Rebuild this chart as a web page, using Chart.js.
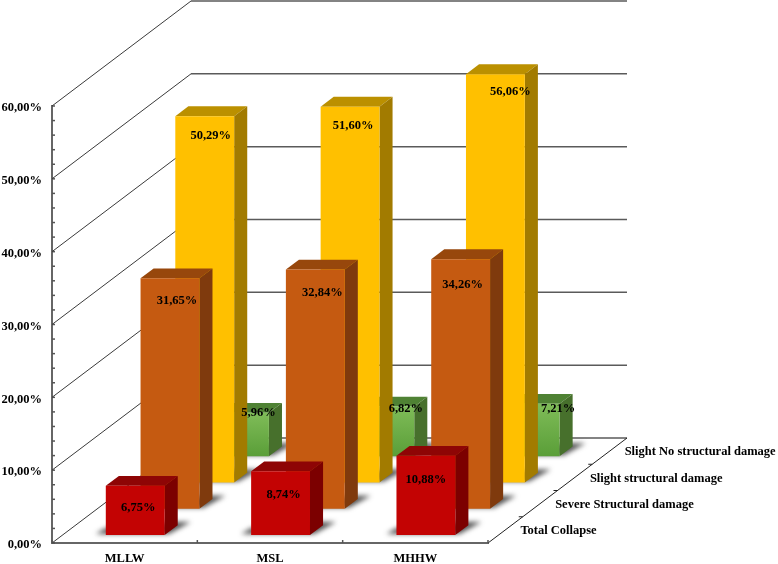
<!DOCTYPE html>
<html>
<head>
<meta charset="utf-8">
<title>Damage by tide level</title>
<script src="https://cdn.jsdelivr.net/npm/chart.js@4"></script>
<style>
html, body { margin: 0; padding: 0; background: #fff; }
#wrap { width: 778px; height: 564px; }
</style>
</head>
<body>
<div id="wrap"><canvas id="damage" width="778" height="564"></canvas></div>
<script>
var tideLevels = ['MLLW', 'MSL', 'MHHW'];
var totalCollapse = [6.75, 8.74, 10.88];
var severeDamage = [31.65, 32.84, 34.26];
var slightDamage = [50.29, 51.60, 56.06];
var noDamage = [5.96, 6.82, 7.21];

// fake 3d: the whole depth of the floor, as a screen offset
var depthX = 139, depthY = -105;
var slotCount = 4;
var frontGap = 0.076, barDepth = 0.094;

// faces: front colour comes from the dataset, these are top and side
var topColors = ['#8e0505', '#97470c', '#bb9000', '#4f8234'];
var sideColors = ['#7c0000', '#7f3a0d', '#a27b00', '#47702c'];

// where each value label sits from the top centre of its bar
var labelShiftX = [[3, 3, 0], [7, 7, 2], [6, 3, 15], [19, 21, 28]];
var labelShiftY = [[22, 23, 24], [23, 23, 26], [20, 19, 18], [0, 2, 5]];

var textFont = 'bold 12.5px "Liberation Serif"';

function slotOffset(i) {
    var f = i / slotCount + frontGap;
    return { x: depthX * f, y: depthY * f };
}

function face(ctx, pts, color) {
    ctx.beginPath();
    ctx.moveTo(pts[0][0], pts[0][1]);
    for (var i = 1; i < pts.length; i++) ctx.lineTo(pts[i][0], pts[i][1]);
    ctx.closePath();
    ctx.fillStyle = color;
    ctx.fill();
}

function line(ctx, x1, y1, x2, y2, color, width) {
    ctx.beginPath();
    ctx.moveTo(x1, y1);
    ctx.lineTo(x2, y2);
    ctx.strokeStyle = color;
    ctx.lineWidth = width;
    ctx.stroke();
}

function greenFront(context) {
    var chart = context.chart, y = chart.scales.y;
    if (!y || context.parsed === undefined) return '#69a945';
    var top = y.getPixelForValue(context.parsed.y), bottom = y.getPixelForValue(0);
    if (!isFinite(top) || !isFinite(bottom)) return '#69a945';
    var g = chart.ctx.createLinearGradient(0, top, 0, bottom);
    g.addColorStop(0, '#7fbc58');
    g.addColorStop(1, '#5a9e38');
    return g;
}

var walls = {
    id: 'walls',
    beforeDatasetsDraw: function (chart) {
        var ctx = chart.ctx, a = chart.chartArea, y = chart.scales.y, x = chart.scales.x;
        ctx.save();
        y.ticks.forEach(function (t) {
            var py = y.getPixelForValue(t.value);
            line(ctx, a.left, py, a.left + 3, py, '#555', 1.5);
            if (t.value % 10 !== 0) return;
            line(ctx, a.left, py, a.left + depthX, py + depthY, '#3a3a3a', 1);
            line(ctx, a.left + depthX, py + depthY, a.right + depthX, py + depthY, '#5a5a5a', 1.5);
        });
        // floor edge on the right, with a tick per series
        line(ctx, a.right, a.bottom, a.right + depthX, a.bottom + depthY, '#222', 1);
        for (var s = 1; s < slotCount; s++) {
            var tx = a.right + depthX * s / slotCount, ty = a.bottom + depthY * s / slotCount;
            line(ctx, tx, ty, tx - 4, ty, '#222', 1);
        }
        for (var c = 0; c <= tideLevels.length; c++) {
            var px = x.left + (x.right - x.left) * c / tideLevels.length;
            line(ctx, px, a.bottom, px, a.bottom - 3, '#555', 1.5);
        }
        ctx.restore();
    }
};

var bars3d = {
    id: 'bars3d',
    beforeDatasetDraw: function (chart, args) {
        var ctx = chart.ctx, off = slotOffset(args.index);
        var dx = depthX * barDepth, dy = depthY * barDepth;
        ctx.save();
        ctx.translate(off.x, off.y);
        args.meta.data.forEach(function (bar) {
            var x1 = bar.x - bar.width / 2, x2 = bar.x + bar.width / 2;
            // soft shadow on the floor
            ctx.save();
            ctx.filter = 'blur(2.5px)';
            face(ctx, [[x1 - 10, bar.base - 1], [x2 + 4, bar.base - 1], [x2 + 26, bar.base - 13], [x2 + 8, bar.base - 13], [x1, bar.base - 7]], 'rgba(50,50,50,0.85)');
            ctx.restore();
            face(ctx, [[x1, bar.y], [x1 + dx, bar.y + dy], [x2 + dx, bar.y + dy], [x2, bar.y]], topColors[args.index]);
            face(ctx, [[x2, bar.y], [x2 + dx, bar.y + dy], [x2 + dx, bar.base + dy], [x2, bar.base]], sideColors[args.index]);
        });
    },
    afterDatasetDraw: function (chart) {
        chart.ctx.restore();
    },
    afterDatasetsDraw: function (chart) {
        var ctx = chart.ctx, a = chart.chartArea;
        ctx.save();
        ctx.font = textFont;
        ctx.fillStyle = '#000';
        ctx.textBaseline = 'middle';
        chart.data.datasets.forEach(function (ds, i) {
            var off = slotOffset(i);
            ctx.textAlign = 'center';
            chart.getDatasetMeta(i).data.forEach(function (bar, j) {
                var text = ds.data[j].toFixed(2).replace('.', ',') + '%';
                ctx.fillText(text, bar.x + off.x + labelShiftX[i][j], bar.y + off.y + labelShiftY[i][j]);
            });
            // series name next to the floor edge
            var f = (i + 0.5) / slotCount;
            ctx.textAlign = 'left';
            ctx.fillText(ds.label, a.right + depthX * f + 15, a.bottom + depthY * f + 1);
        });
        ctx.restore();
    }
};

var damage = document.getElementById('damage').getContext('2d');
new Chart(damage, {
    type: 'bar',
    data: {
        labels: tideLevels,
        datasets: [
            { label: 'Total Collapse', data: totalCollapse, backgroundColor: '#c30303' },
            { label: 'Severe Structural damage', data: severeDamage, backgroundColor: '#c55a11' },
            { label: 'Slight structural damage', data: slightDamage, backgroundColor: '#ffc000' },
            { label: 'Slight No structural damage', data: noDamage, backgroundColor: greenFront }
        ]
    },
    plugins: [walls, bars3d],
    options: {
        responsive: false,
        animation: false,
        layout: { padding: { top: 106, right: 290, left: 0, bottom: 0 } },
        datasets: { bar: { grouped: false, categoryPercentage: 1, barPercentage: 0.405, clip: false } },
        plugins: {
            legend: { display: false },
            title: { display: false },
            tooltip: { enabled: false }
        },
        scales: {
            x: {
                afterFit: function (s) { s.height = 21; },
                grid: { display: false, drawTicks: false },
                border: { color: '#666', width: 2 },
                ticks: { color: '#000', font: { family: 'Liberation Serif', size: 12.5, weight: 'bold' }, padding: 8, maxRotation: 0 }
            },
            y: {
                min: 0,
                max: 60,
                afterFit: function (s) { s.width = 52; },
                grid: { display: false, drawTicks: false },
                border: { color: '#666', width: 2 },
                ticks: {
                    stepSize: 2,
                    autoSkip: false,
                    color: '#000',
                    padding: 10,
                    labelOffset: 2,
                    font: { family: 'Liberation Serif', size: 12.5, weight: 'bold' },
                    callback: function (v) { return v % 10 === 0 ? v.toFixed(2).replace('.', ',') + '%' : ''; }
                }
            }
        }
    }
});
</script>
</body>
</html>
